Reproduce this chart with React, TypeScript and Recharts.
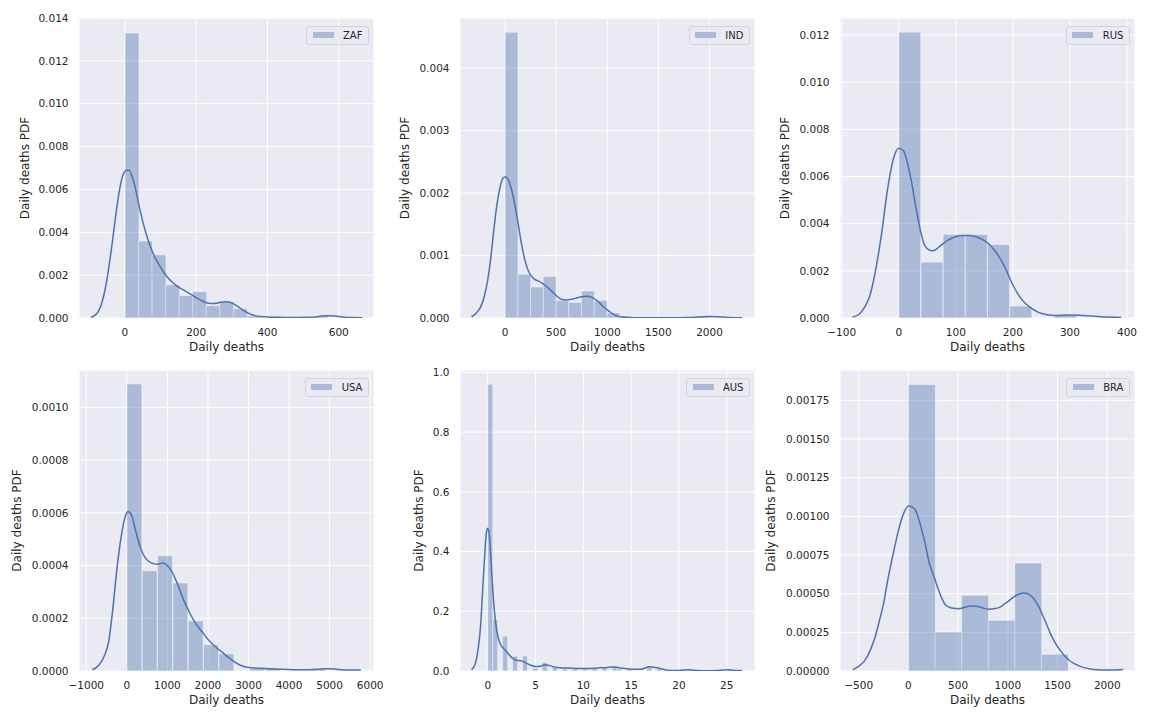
import React from 'react';
import { ComposedChart, Bar, Line, XAxis, YAxis, CartesianGrid, Legend } from 'recharts';

// ---------------- data ----------------
const ZAF_BIN_WIDTH = 38;
const ZAF_HEIGHTS = [0.0133, 0.00359, 0.00295, 0.00155, 0.00104, 0.00123, 0.00057, 0.00076, 0.00043, 0.0001, 0, 0, 0, 0, 0.0001];
const ZAF_KDE: [number, number][] = [
  [-95, 0.00003], [-85, 0.00012], [-75, 0.0003], [-65, 0.0007], [-55, 0.0014], [-45, 0.0024], [-35, 0.0036],
  [-25, 0.0049], [-15, 0.006], [-5, 0.0067], [5, 0.0069], [12, 0.0069], [20, 0.0066], [30, 0.006], [40, 0.0052],
  [50, 0.0045], [60, 0.0039], [72, 0.0033], [85, 0.0028], [95, 0.0025], [110, 0.0021], [125, 0.0018], [145, 0.0015],
  [165, 0.0013], [185, 0.0011], [205, 0.0009], [220, 0.00077], [235, 0.00069], [250, 0.00068], [265, 0.00072],
  [280, 0.00076], [292, 0.00075], [305, 0.00066], [320, 0.0005], [335, 0.00033], [350, 0.00019], [365, 0.00011],
  [380, 0.00007], [400, 0.00005], [430, 0.00003], [470, 0.00002], [510, 0.00003], [540, 0.00006], [560, 0.0001],
  [575, 0.00011], [590, 0.00009], [610, 0.00005], [635, 0.00002], [666, 0.00001],
];
const ZAF_X_TICKS = [0, 200, 400, 600];
const ZAF_Y_TICKS = [0, 0.002, 0.004, 0.006, 0.008, 0.01, 0.012, 0.014];
const ZAF_X_DOMAIN: [number, number] = [-129, 699];
const ZAF_Y_MAX = 0.014;

const IND_BIN_WIDTH = 124.6;
const IND_HEIGHTS = [0.004576, 0.000699, 0.000496, 0.000667, 0.000283, 0.00025, 0.000432, 0.000283, 0.00008, 0.000028, 0, 0, 0, 0, 0, 0.000028];
const IND_KDE: [number, number][] = [
  [-327, 0.00002], [-280, 0.00008], [-240, 0.00017], [-200, 0.00036], [-170, 0.0006], [-140, 0.00095], [-110, 0.0014],
  [-80, 0.0018], [-50, 0.00208], [-20, 0.00224], [10, 0.00226], [40, 0.00218], [70, 0.00202], [100, 0.00178],
  [130, 0.0015], [160, 0.0012], [190, 0.00096], [220, 0.00079], [250, 0.00069], [290, 0.00062], [330, 0.00059],
  [370, 0.00055], [410, 0.0005], [450, 0.00044], [500, 0.00036], [550, 0.0003], [600, 0.00029], [650, 0.0003],
  [700, 0.00032], [750, 0.00034], [800, 0.00035], [850, 0.00033], [900, 0.00028], [950, 0.0002], [1000, 0.00013],
  [1050, 0.00007], [1100, 0.00003], [1170, 0.000015], [1250, 0.000006], [1400, 0.000003], [1600, 0.000003],
  [1800, 0.000008], [1900, 0.000018], [2000, 0.000025], [2080, 0.00002], [2180, 0.00001], [2320, 0.000003],
];
const IND_X_TICKS = [0, 500, 1000, 1500, 2000];
const IND_Y_TICKS = [0, 0.001, 0.002, 0.003, 0.004];
const IND_X_DOMAIN: [number, number] = [-440, 2445];
const IND_Y_MAX = 0.004805;

const RUS_BIN_WIDTH = 38.9;
const RUS_HEIGHTS = [0.01212, 0.00237, 0.003545, 0.003545, 0.00312, 0.000508, 0, 0.00014];
const RUS_KDE: [number, number][] = [
  [-81, 0.00004], [-70, 0.00015], [-60, 0.00045], [-50, 0.001], [-40, 0.0021], [-30, 0.0036], [-20, 0.0054],
  [-10, 0.0067], [0, 0.0072], [8, 0.0071], [15, 0.0066], [22, 0.0058], [30, 0.0047], [38, 0.0037], [45, 0.0031],
  [52, 0.0029], [60, 0.00285], [70, 0.003], [80, 0.0032], [95, 0.0034], [110, 0.0035], [125, 0.0035], [140, 0.0034],
  [155, 0.0032], [170, 0.0028], [185, 0.0022], [200, 0.0014], [215, 0.0008], [230, 0.00045], [245, 0.00024],
  [260, 0.00014], [275, 0.00011], [295, 0.00013], [315, 0.00012], [340, 0.00008], [365, 0.00004], [390, 0.00002],
];
const RUS_X_TICKS = [-100, 0, 100, 200, 300, 400];
const RUS_Y_TICKS = [0, 0.002, 0.004, 0.006, 0.008, 0.01, 0.012];
const RUS_X_DOMAIN: [number, number] = [-103, 414];
const RUS_Y_MAX = 0.01272;

const USA_BIN_WIDTH = 378;
const USA_HEIGHTS = [0.001089, 0.00038, 0.000437, 0.000334, 0.00019, 0.0001, 0.000065, 0, 0.000009, 0.000009, 0, 0, 0.000009];
const USA_KDE: [number, number][] = [
  [-854, 0.000005], [-750, 0.000014], [-650, 0.00003], [-550, 0.00006], [-450, 0.00011], [-350, 0.00023],
  [-250, 0.00038], [-150, 0.0005], [-50, 0.00058], [30, 0.000605], [120, 0.00059], [220, 0.00053], [330, 0.00047],
  [450, 0.00043], [600, 0.00041], [750, 0.000405], [900, 0.00041], [1000, 0.0004], [1100, 0.00038], [1250, 0.00033],
  [1400, 0.00027], [1550, 0.00022], [1700, 0.00018], [1850, 0.00015], [2000, 0.00012], [2200, 0.00009],
  [2400, 0.000065], [2600, 0.00004], [2800, 0.000022], [3000, 0.000013], [3300, 0.00001], [3700, 0.000008],
  [4100, 0.000005], [4500, 0.000005], [4800, 0.000008], [5000, 0.000009], [5200, 0.000006], [5500, 0.000004],
  [5770, 0.000004],
];
const USA_X_TICKS = [-1000, 0, 1000, 2000, 3000, 4000, 5000, 6000];
const USA_Y_TICKS = [0, 0.0002, 0.0004, 0.0006, 0.0008, 0.001];
const USA_X_DOMAIN: [number, number] = [-1180, 6095];
const USA_Y_MAX = 0.001142;

const AUS_BIN_WIDTH = 0.52;
const AUS_HEIGHTS = [
  0.96, 0.172, 0, 0.117, 0, 0.05, 0, 0.05, 0, 0.01,
  0, 0.029, 0, 0.014, 0, 0.007, 0, 0.007, 0, 0.007,
  0, 0.01, 0, 0.01, 0, 0.017, 0.007, 0, 0.007, 0,
  0, 0, 0.017, 0, 0.007, 0, 0, 0, 0, 0,
  0.007, 0, 0, 0, 0, 0, 0, 0, 0.007, 0,
];
const AUS_KDE: [number, number][] = [
  [-1.7, 0.004], [-1.35, 0.02], [-1.0, 0.075], [-0.75, 0.15], [-0.55, 0.26], [-0.35, 0.37], [-0.18, 0.45],
  [-0.05, 0.478], [0.1, 0.47], [0.25, 0.42], [0.4, 0.34], [0.55, 0.26], [0.7, 0.2], [0.85, 0.155], [1.1, 0.11],
  [1.4, 0.085], [1.7, 0.074], [2.0, 0.064], [2.3, 0.052], [2.6, 0.042], [3.0, 0.036], [3.5, 0.034], [4.0, 0.027],
  [4.5, 0.019], [5.0, 0.015], [5.5, 0.016], [6.0, 0.021], [6.5, 0.018], [7.0, 0.013], [7.5, 0.011], [8.5, 0.01],
  [9.5, 0.008], [10.5, 0.008], [11.5, 0.01], [12.5, 0.012], [13.2, 0.013], [14, 0.01], [15, 0.006], [16, 0.006],
  [16.9, 0.014], [17.5, 0.012], [18.2, 0.007], [19, 0.002], [20, 0.002], [21, 0.004], [22, 0.002], [23, 0.001],
  [24, 0.002], [25, 0.004], [26, 0.002], [26.6, 0.001],
];
const AUS_X_TICKS = [0, 5, 10, 15, 20, 25];
const AUS_Y_TICKS = [0, 0.2, 0.4, 0.6, 0.8, 1.0];
const AUS_X_DOMAIN: [number, number] = [-2.9, 27.95];
const AUS_Y_MAX = 1.008;

const BRA_BIN_WIDTH = 267.5;
const BRA_HEIGHTS = [0.001853, 0.000252, 0.000489, 0.000328, 0.000698, 0.000108];
const BRA_KDE: [number, number][] = [
  [-560, 0.000009], [-500, 0.00003], [-436, 0.00007], [-380, 0.00014], [-335, 0.00022], [-290, 0.00033],
  [-250, 0.000435], [-210, 0.00058], [-167, 0.000716], [-125, 0.00084], [-83, 0.00095], [-40, 0.00103],
  [0, 0.001067], [40, 0.00106], [70, 0.00104], [100, 0.00099], [135, 0.00091], [170, 0.00082], [203, 0.000716],
  [235, 0.00065], [270, 0.000586], [305, 0.00052], [337, 0.000468], [370, 0.00043], [404, 0.000414],
  [450, 0.000405], [505, 0.000403], [560, 0.00041], [610, 0.000418], [660, 0.00042], [710, 0.000415],
  [760, 0.000405], [810, 0.0004], [860, 0.000403], [910, 0.00041], [960, 0.00043], [1010, 0.000453],
  [1060, 0.00048], [1110, 0.000496], [1160, 0.000504], [1200, 0.0005], [1246, 0.000478], [1280, 0.00045],
  [1313, 0.000414], [1350, 0.00036], [1380, 0.000317], [1430, 0.00024], [1481, 0.000177], [1530, 0.00013],
  [1582, 0.00009], [1630, 0.000063], [1683, 0.000043], [1750, 0.000025], [1818, 0.000015], [1900, 0.000008],
  [1953, 0.0000065], [2050, 0.000007], [2160, 0.00001],
];
const BRA_X_TICKS = [-500, 0, 500, 1000, 1500, 2000];
const BRA_Y_TICKS = [0, 0.00025, 0.0005, 0.00075, 0.001, 0.00125, 0.0015, 0.00175];
const BRA_X_DOMAIN: [number, number] = [-688, 2279];
const BRA_Y_MAX = 0.001946;

const X_LABEL = 'Daily deaths';
const Y_LABEL = 'Daily deaths PDF';

// ---------------- config tables ----------------
const PANELS = [
  { name: 'ZAF', binWidth: ZAF_BIN_WIDTH, heights: ZAF_HEIGHTS, kde: ZAF_KDE, xTicks: ZAF_X_TICKS, yTicks: ZAF_Y_TICKS, xDomain: ZAF_X_DOMAIN, yMax: ZAF_Y_MAX, yDecimals: 3 },
  { name: 'IND', binWidth: IND_BIN_WIDTH, heights: IND_HEIGHTS, kde: IND_KDE, xTicks: IND_X_TICKS, yTicks: IND_Y_TICKS, xDomain: IND_X_DOMAIN, yMax: IND_Y_MAX, yDecimals: 3 },
  { name: 'RUS', binWidth: RUS_BIN_WIDTH, heights: RUS_HEIGHTS, kde: RUS_KDE, xTicks: RUS_X_TICKS, yTicks: RUS_Y_TICKS, xDomain: RUS_X_DOMAIN, yMax: RUS_Y_MAX, yDecimals: 3 },
  { name: 'USA', binWidth: USA_BIN_WIDTH, heights: USA_HEIGHTS, kde: USA_KDE, xTicks: USA_X_TICKS, yTicks: USA_Y_TICKS, xDomain: USA_X_DOMAIN, yMax: USA_Y_MAX, yDecimals: 4 },
  { name: 'AUS', binWidth: AUS_BIN_WIDTH, heights: AUS_HEIGHTS, kde: AUS_KDE, xTicks: AUS_X_TICKS, yTicks: AUS_Y_TICKS, xDomain: AUS_X_DOMAIN, yMax: AUS_Y_MAX, yDecimals: 1 },
  { name: 'BRA', binWidth: BRA_BIN_WIDTH, heights: BRA_HEIGHTS, kde: BRA_KDE, xTicks: BRA_X_TICKS, yTicks: BRA_Y_TICKS, xDomain: BRA_X_DOMAIN, yMax: BRA_Y_MAX, yDecimals: 5 },
];

// layout (pixels)
const Y_AXIS_W = 79;
const M_TOP = 10;
const M_RIGHT = 10;
const X_AXIS_H = 50;
const PLOT_W = 295;
const LAYOUT = [
  { left: 0, top: 8, plotH: 300, yLabelGap: 50 },
  { left: 381, top: 8, plotH: 300, yLabelGap: 51 },
  { left: 761, top: 8, plotH: 300, yLabelGap: 51 },
  { left: 0, top: 360, plotH: 301, yLabelGap: 58 },
  { left: 381, top: 360, plotH: 301, yLabelGap: 37.5 },
  { left: 761, top: 360, plotH: 301, yLabelGap: 65.5 },
];

const TEXT = '#262626';
const C0 = '#4C72B0';
const BG = '#EAEAF2';
const FONT = '"DejaVu Sans", sans-serif';

const fmtX = (v: number) => (v < 0 ? '\u2212' + Math.abs(v) : String(v));

const XLabel = (props: any) => {
  const vb = props.viewBox || {};
  return (
    <text x={vb.x + vb.width / 2} y={vb.y + 33.3} textAnchor="middle" fill={TEXT} fontSize={12} fontFamily={FONT}>
      {X_LABEL}
    </text>
  );
};

const makeYLabel = (gap: number) => (props: any) => {
  const vb = props.viewBox || {};
  const x = vb.x + vb.width - gap;
  const y = vb.y + vb.height / 2;
  return (
    <text x={x} y={y} transform={`rotate(-90 ${x} ${y})`} textAnchor="middle" fill={TEXT} fontSize={12} fontFamily={FONT}>
      {Y_LABEL}
    </text>
  );
};

const LegendBox = (props: any) => {
  const items = (props.payload || []).filter((p: any) => p.type !== 'none');
  return (
    <div
      style={{
        display: 'inline-block',
        boxSizing: 'border-box',
        padding: '0 5.6px 0 5.4px',
        border: '1px solid #D2D2D9',
        borderRadius: 3,
        background: 'rgba(234,234,242,0.8)',
        fontFamily: FONT,
      }}
    >
      {items.map((it: any) => (
        <div key={it.value} style={{ display: 'flex', alignItems: 'center', height: 17 }}>
          <span style={{ display: 'inline-block', width: 21, height: 6, background: '#ABBAD8', marginRight: 9.3 }} />
          <span style={{ fontSize: 10, color: TEXT, lineHeight: '17px' }}>{it.value}</span>
        </div>
      ))}
    </div>
  );
};

function Panel({ cfg, lay }: { cfg: (typeof PANELS)[number]; lay: (typeof LAYOUT)[number] }) {
  const bins = cfg.heights.map((h, i) => ({ x: (i + 0.5) * cfg.binWidth, h }));
  const kde = cfg.kde.map(([x, y]) => ({ x, y }));
  const width = Y_AXIS_W + PLOT_W + M_RIGHT;
  const height = M_TOP + lay.plotH + X_AXIS_H;
  return (
    <div style={{ position: 'absolute', left: lay.left, top: lay.top }}>
      <ComposedChart
        width={width}
        height={height}
        data={bins}
        margin={{ top: M_TOP, right: M_RIGHT, bottom: 0, left: 0 }}
        barCategoryGap={0}
        barGap={0}
      >
        <CartesianGrid fill={BG} fillOpacity={1} stroke="#FFFFFF" strokeWidth={1} />
        <XAxis
          type="number"
          dataKey="x"
          domain={cfg.xDomain}
          allowDataOverflow
          ticks={cfg.xTicks}
          interval={0}
          height={X_AXIS_H}
          axisLine={false}
          tickLine={false}
          tickSize={6}
          tickMargin={4.5}
          tick={{ fill: TEXT, fontSize: 10.5, fontFamily: FONT }}
          tickFormatter={fmtX}
          label={{ value: X_LABEL, content: XLabel }}
        />
        <XAxis xAxisId="kde" type="number" dataKey="x" domain={cfg.xDomain} allowDataOverflow hide />
        <YAxis
          type="number"
          domain={[0, cfg.yMax]}
          allowDataOverflow
          ticks={cfg.yTicks}
          interval={0}
          width={Y_AXIS_W}
          axisLine={false}
          tickLine={false}
          tickSize={6}
          tickMargin={4.5}
          tick={{ fill: TEXT, fontSize: 10.5, fontFamily: FONT }}
          tickFormatter={(v: number) => v.toFixed(cfg.yDecimals)}
          label={{ value: Y_LABEL, content: makeYLabel(lay.yLabelGap) }}
        />
        <Bar
          dataKey="h"
          name={cfg.name}
          fill={C0}
          fillOpacity={0.4}
          stroke="#FFFFFF"
          strokeOpacity={0.45}
          strokeWidth={1}
          isAnimationActive={false}
        />
        <Line
          xAxisId="kde"
          data={kde}
          dataKey="y"
          type="monotone"
          stroke={C0}
          strokeWidth={1.5}
          dot={false}
          activeDot={false}
          legendType="none"
          isAnimationActive={false}
        />
        <Legend
          layout="vertical"
          align="center"
          verticalAlign="middle"
          content={LegendBox}
          wrapperStyle={{ top: M_TOP + 5.2, right: M_RIGHT + 5, left: 'auto', bottom: 'auto', width: 'auto', height: 'auto' }}
        />
      </ComposedChart>
    </div>
  );
}

export default function App() {
  return (
    <div
      style={{
        position: 'absolute',
        left: 0,
        top: 0,
        width: 1152,
        height: 720,
        background: '#FFFFFF',
        fontFamily: FONT,
        overflow: 'hidden',
      }}
    >
      {PANELS.map((cfg, i) => (
        <Panel key={cfg.name} cfg={cfg} lay={LAYOUT[i]} />
      ))}
    </div>
  );
}
